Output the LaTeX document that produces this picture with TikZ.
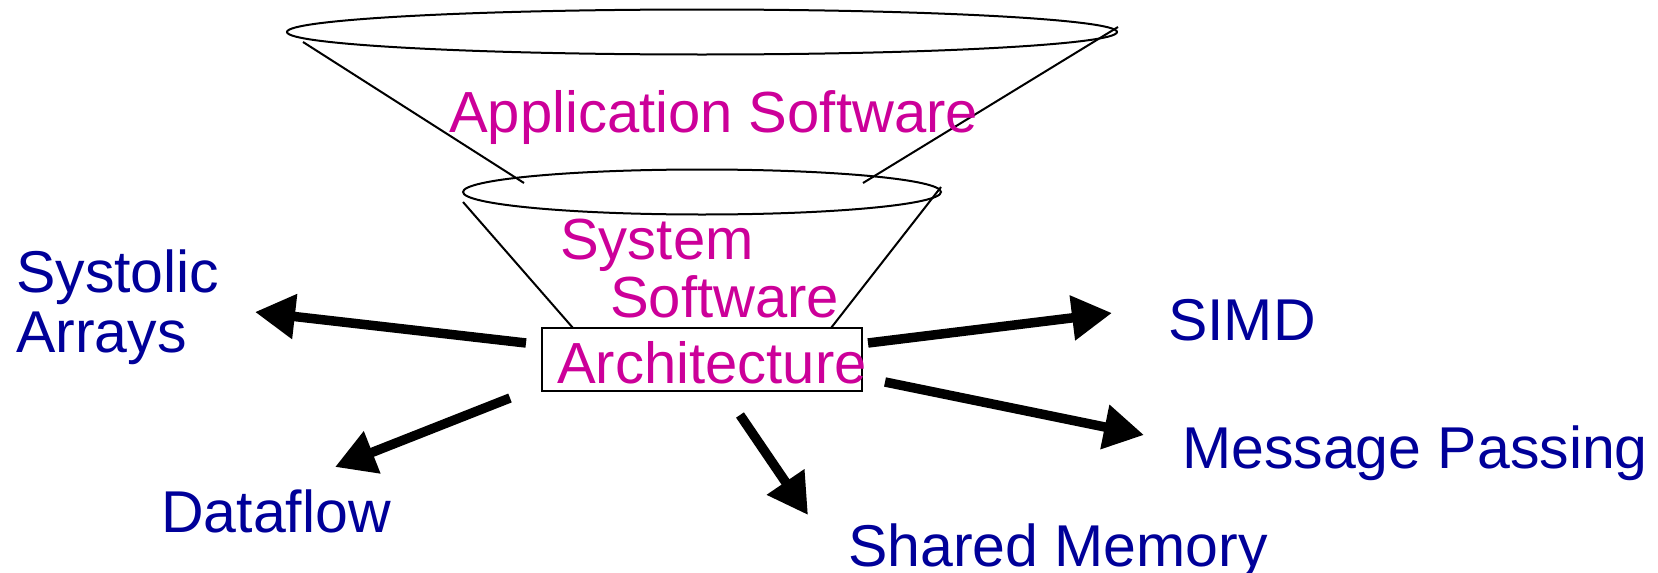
\documentclass[tikz,border=0pt]{standalone}
\usepackage{fontspec}
\setmainfont{Liberation Sans}
\usetikzlibrary{arrows.meta,shapes.geometric}
\definecolor{mag}{HTML}{CC0099}
\definecolor{dblue}{HTML}{000099}
\tikzset{
  magtext/.style={text=mag, inner sep=0pt, anchor=base west, font=\fontsize{58}{60}\selectfont},
  bluetext/.style={text=dblue, inner sep=0pt, anchor=base west, font=\fontsize{59}{60}\selectfont},
  thinline/.style={line width=2pt},
  bigarrow/.style={line width=9.5pt, -{Triangle[length=40pt,width=43pt]}},
}
\begin{document}
\begin{tikzpicture}[x=1pt,y=-1pt]
\useasboundingbox (0,0) rectangle (1658,573);
% funnel
\node[ellipse, draw, thinline, minimum width=830pt, minimum height=45pt, inner sep=0pt] (topell) at (702,32) {};
\node[ellipse, draw, thinline, minimum width=478pt, minimum height=45pt, inner sep=0pt] (midell) at (702,192) {};
\node[draw, line width=2pt, minimum width=320pt, minimum height=63pt, inner sep=0pt] (box) at (702,359.5) {};
\coordinate (tl1) at (303,42); \coordinate (tl2) at (524,183);
\coordinate (tr1) at (1118,27); \coordinate (tr2) at (863,183);
\coordinate (ml1) at (463,202); \coordinate (ml2) at (573,328);
\coordinate (mr1) at (941,187); \coordinate (mr2) at (831,328);
\draw[thinline] (tl1) -- (tl2);
\draw[thinline] (tr1) -- (tr2);
\draw[thinline] (ml1) -- (ml2);
\draw[thinline] (mr1) -- (mr2);
% magenta labels
\node[magtext] (app) at (449,132) {Application Software};
\node[magtext] (sys) at (560,259) {System};
\node[magtext] (sw) at (610,317) {Software};
\node[magtext] (arch) at (557,383) {Architecture};
% blue labels
\node[bluetext] (systolic) at (16,292) {Systolic};
\node[bluetext] (arrays) at (16,352) {Arrays};
\node[bluetext] (dataflow) at (161,532) {Dataflow};
\node[bluetext] (shared) at (848,566) {Shared Memory};
\node[bluetext] (simd) at (1168,340) {SIMD};
\node[bluetext] (msg) at (1182,468) {Message Passing};
% arrows
\coordinate (sA) at (526,343); \coordinate (tA) at (255,312);
\coordinate (sB) at (510,398); \coordinate (tB) at (335,467);
\coordinate (sC) at (740,415); \coordinate (tC) at (808,515);
\coordinate (sD) at (868,343); \coordinate (tD) at (1112,313);
\coordinate (sE) at (885,382); \coordinate (tE) at (1144,435);
\draw[bigarrow] (sA) -- (tA);
\draw[bigarrow] (sB) -- (tB);
\draw[bigarrow] (sC) -- (tC);
\draw[bigarrow] (sD) -- (tD);
\draw[bigarrow] (sE) -- (tE);
\end{tikzpicture}
\end{document}
